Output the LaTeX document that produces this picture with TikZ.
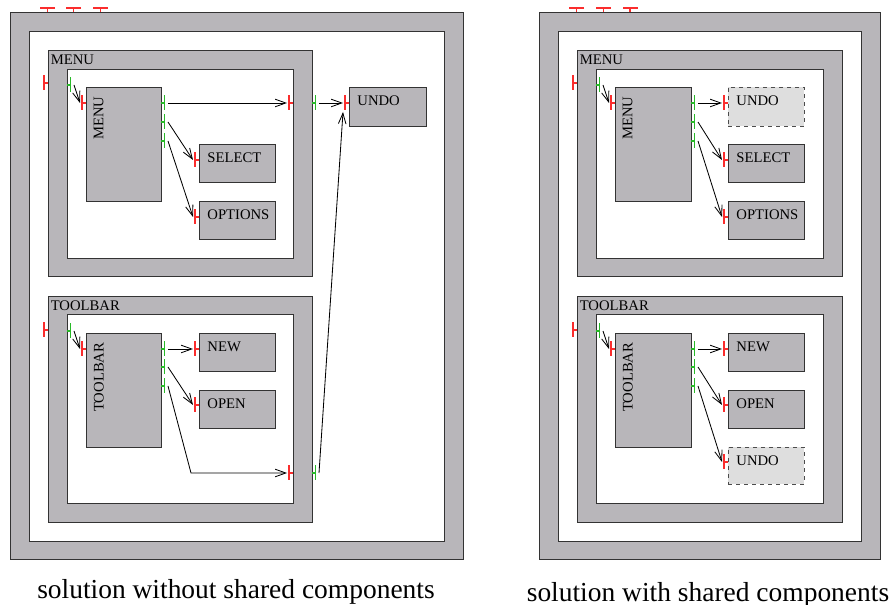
\documentclass[tikz,border=0pt]{standalone}
\usepackage{fontspec}
\setmainfont{Liberation Serif}
\usetikzlibrary{arrows.meta}
\usetikzlibrary{calc}
\usetikzlibrary{fit}
\definecolor{compgray}{RGB}{184,182,186}
\definecolor{sharedgray}{RGB}{222,222,222}
\definecolor{portred}{RGB}{250,45,45}
\definecolor{portgreen}{RGB}{40,185,40}
\tikzset{
    boxbase/.style={draw=black!80, line width=0.25mm, inner sep=0pt},
    framebox/.style={boxbase, fill=compgray},
    holebox/.style={boxbase, fill=white},
    compbox/.style={boxbase, fill=compgray},
    sharedbox/.style={boxbase, fill=sharedgray, dashed, draw=black!70},
    framelabel/.style={anchor=north west, inner sep=0pt, xshift=2.25pt, yshift=-3.75pt},
    complabel/.style={anchor=north west, inner sep=0pt, xshift=6.5pt, yshift=-7pt},
    vertlabel/.style={anchor=north east, inner sep=0pt, xshift=6pt, yshift=-7.5pt, rotate=90},
    wire/.style={-{Straight Barb[length=2.8mm, width=2mm]}, line width=0.22mm},
}
% required port: stem from the edge, bar outside
\newcommand{\drawreqport}[3]{
    \begin{scope}[shift={(#2)}]
        \begin{scope}[rotate=#3]
            \draw [draw=portred, line width=0.4mm] (-4,-7.5) -- (-4,7.5);
            \draw [draw=portred, line width=0.4mm] (-4,0) -- (0,0);
            \coordinate (#1) at (-6,0);
        \end{scope}
    \end{scope}
}
% provided port
\newcommand{\drawprovport}[2]{
    \begin{scope}[shift={(#2)}]
        \draw [draw=portgreen, line width=0.4mm] (3.5,-7.5) -- (3.5,7.5);
        \draw [draw=portgreen, line width=0.4mm] (0,0) -- (3.5,0);
        \coordinate (#1) at (7,0);
    \end{scope}
}
\newcommand{\drawbox}[5]{
    \node [#1, fit={(#3) (#4)}, #5] (#2) {};
}

\begin{document}
\begin{tikzpicture}[x=0.75pt, y=-0.75pt, font=\fontsize{11}{13}\selectfont]
    \useasboundingbox (0,0) rectangle (892,605);
    % solution without shared components
    \drawbox{framebox}{la}{10,12}{463,559}{}
    \drawbox{holebox}{lai}{29,31}{444,541}{}
    \drawreqport{lt1}{47.7,12}{-90}
    \drawreqport{lt2}{73.7,12}{-90}
    \drawreqport{lt3}{100.3,12}{-90}
    \drawbox{framebox}{lmenu}{48,50}{312,276}{label={[framelabel]north west:MENU}}
    \drawbox{holebox}{lmenui}{67,69}{293,258}{}
    \drawbox{compbox}{lmenuc}{86,87}{161,201}{label={[vertlabel]north west:MENU}}
    \drawbox{compbox}{lselect}{199,144}{275,182}{label={[complabel]north west:SELECT}}
    \drawbox{compbox}{loptions}{199,201}{275,239}{label={[complabel]north west:OPTIONS}}
    \drawbox{compbox}{lundo}{349,87}{426,126}{label={[complabel]north west:UNDO}}
    \drawbox{framebox}{ltool}{48,296}{312,522}{label={[framelabel]north west:TOOLBAR}}
    \drawbox{holebox}{ltooli}{67,314}{293,503}{}
    \drawbox{compbox}{ltoolc}{86,333}{161,447}{label={[vertlabel]north west:TOOLBAR}}
    \drawbox{compbox}{lnew}{199,333}{275,371}{label={[complabel]north west:NEW}}
    \drawbox{compbox}{lopen}{199,390}{275,428}{label={[complabel]north west:OPEN}}
    % ports
    \drawreqport{lmr}{48,83}{0}
    \drawprovport{lmp}{67,85}
    \drawreqport{lmcr}{86,103}{0}
    \drawprovport{lmc1}{161,103}
    \drawprovport{lmc2}{161,122}
    \drawprovport{lmc3}{161,141}
    \drawreqport{lselr}{199,160}{0}
    \drawreqport{loptr}{199,217}{0}
    \drawreqport{lmir}{293,103}{0}
    \drawprovport{lmop}{312,103}
    \drawreqport{lundor}{349,103}{0}
    \drawreqport{ltr}{48,330}{0}
    \drawprovport{ltp}{67,331}
    \drawreqport{ltcr}{86,349}{0}
    \drawprovport{ltc1}{161,349}
    \drawprovport{ltc2}{161,367}
    \drawprovport{ltc3}{161,386}
    \drawreqport{lnewr}{199,349}{0}
    \drawreqport{lopenr}{199,405}{0}
    \drawreqport{ltir}{293,473}{0}
    \drawprovport{ltop}{312,473}
    \coordinate (lbend) at (191,473);
    \draw [wire] (lmp) -- (lmcr);
    \draw [wire] (lmc1) -- (lmir);
    \draw [wire] (lmc2) -- (lselr);
    \draw [wire] (lmc3) -- (loptr);
    \draw [wire] (lmop) -- (lundor);
    \draw [wire] (ltp) -- (ltcr);
    \draw [wire] (ltc1) -- (lnewr);
    \draw [wire] (ltc2) -- (lopenr);
    \draw [wire] (ltc3) -- (lbend) -- (ltir);
    \draw [wire] (ltop) -- ($(lundor)+(0,9)$);
    \node [anchor=base, font=\fontsize{20.6}{24}\selectfont] (lcap) at (236,598) {solution without shared components};
    % solution with shared components
    \begin{scope}[shift={(529,0)}]
        \drawbox{framebox}{ra}{10,12}{351,559}{}
        \drawbox{holebox}{rai}{29,31}{332,541}{}
        \drawreqport{rt1}{47.7,12}{-90}
        \drawreqport{rt2}{74.3,12}{-90}
        \drawreqport{rt3}{101,12}{-90}
        \drawbox{framebox}{rmenu}{48,50}{313,276}{label={[framelabel]north west:MENU}}
        \drawbox{holebox}{rmenui}{67,69}{294,258}{}
        \drawbox{compbox}{rmenuc}{86,87}{162,201}{label={[vertlabel]north west:MENU}}
        \drawbox{sharedbox}{rundo}{199,87}{275,126}{label={[complabel]north west:UNDO}}
        \drawbox{compbox}{rselect}{199,144}{275,182}{label={[complabel]north west:SELECT}}
        \drawbox{compbox}{roptions}{199,201}{275,239}{label={[complabel]north west:OPTIONS}}
        \drawbox{framebox}{rtool}{48,296}{313,522}{label={[framelabel]north west:TOOLBAR}}
        \drawbox{holebox}{rtooli}{67,314}{294,503}{}
        \drawbox{compbox}{rtoolc}{86,333}{162,447}{label={[vertlabel]north west:TOOLBAR}}
        \drawbox{compbox}{rnew}{199,333}{275,371}{label={[complabel]north west:NEW}}
        \drawbox{compbox}{ropen}{199,390}{275,428}{label={[complabel]north west:OPEN}}
        \drawbox{sharedbox}{rundob}{199,447}{275,484}{label={[complabel]north west:UNDO}}
        % ports
        \drawreqport{rmr}{48,83}{0}
        \drawprovport{rmp}{67,85}
        \drawreqport{rmcr}{86,103}{0}
        \drawprovport{rmc1}{162,103}
        \drawprovport{rmc2}{162,122}
        \drawprovport{rmc3}{162,141}
        \drawreqport{rundor}{199,103}{0}
        \drawreqport{rselr}{199,160}{0}
        \drawreqport{roptr}{199,217}{0}
        \drawreqport{rtr}{48,330}{0}
        \drawprovport{rtp}{67,331}
        \drawreqport{rtcr}{86,349}{0}
        \drawprovport{rtc1}{162,349}
        \drawprovport{rtc2}{162,367}
        \drawprovport{rtc3}{162,386}
        \drawreqport{rnewr}{199,349}{0}
        \drawreqport{ropenr}{199,405}{0}
        \drawreqport{rundobr}{199,462}{0}
        \draw [wire] (rmp) -- (rmcr);
        \draw [wire] (rmc1) -- (rundor);
        \draw [wire] (rmc2) -- (rselr);
        \draw [wire] (rmc3) -- (roptr);
        \draw [wire] (rtp) -- (rtcr);
        \draw [wire] (rtc1) -- (rnewr);
        \draw [wire] (rtc2) -- (ropenr);
        \draw [wire] (rtc3) -- (rundobr);
        \node [anchor=base, font=\fontsize{20.6}{24}\selectfont] (rcap) at (179,601) {solution with shared components};
    \end{scope}
\end{tikzpicture}
\end{document}
